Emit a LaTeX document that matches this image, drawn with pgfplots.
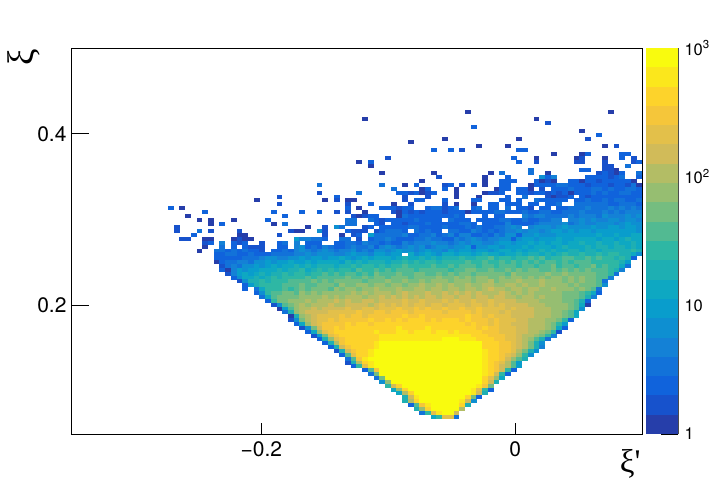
\documentclass[border=0pt]{standalone}
\usepackage{fontspec}
\setmainfont{TeX Gyre Heros}
\newfontfamily\gr{Liberation Serif}
\usepackage{pgfplots}
\pgfplotsset{compat=1.18}
\definecolor{b1}{rgb}{.1486,.2438,.6649}\definecolor{b2}{rgb}{.0890,.3212,.8006}
\definecolor{b3}{rgb}{.0630,.3887,.8624}\definecolor{b4}{rgb}{.0705,.4465,.8504}
\definecolor{b5}{rgb}{.0780,.5041,.8385}\definecolor{b6}{rgb}{.0561,.5592,.8197}
\definecolor{b7}{rgb}{.0342,.6143,.8009}\definecolor{b8}{rgb}{.0546,.6571,.7616}
\definecolor{b9}{rgb}{.1158,.6875,.7021}\definecolor{b10}{rgb}{.1802,.7178,.6425}
\definecolor{b11}{rgb}{.3202,.7304,.5720}\definecolor{b12}{rgb}{.4601,.7430,.5015}
\definecolor{b13}{rgb}{.5878,.7459,.4429}\definecolor{b14}{rgb}{.7032,.7394,.3963}
\definecolor{b15}{rgb}{.8186,.7328,.3499}\definecolor{b16}{rgb}{.8894,.7542,.2887}
\definecolor{b17}{rgb}{.9602,.7755,.2275}\definecolor{b18}{rgb}{.9918,.8256,.1682}
\definecolor{b19}{rgb}{.9841,.9043,.1111}\definecolor{b20}{rgb}{.9764,.9832,.0539}
\pgfdeclareplotmark{bin}{\pgfpathrectangle{\pgfpoint{-2.93pt}{-2.0pt}}{\pgfpoint{5.86pt}{4.0pt}}\pgfusepathqfill}
\pgfplotsset{bins/.style={scatter,only marks,mark=bin,forget plot,scatter/use mapped color={fill=mapped color}}}
\newcount\ci
\newcommand\R[3]{%
  \global\ci=#2\relax\gdef\acc{}%
  \pgfmathsetmacro\yy{0.05+0.0045*(#1+0.5)}%
  \foreach \v in {#3}{%
    \ifnum\v>0
      \pgfmathsetmacro\xx{-0.35+0.0045*(\the\ci+0.5)}%
      \xdef\acc{\acc (\xx,\yy) [\the\numexpr\v-1\relax.5]}%
    \fi
    \global\advance\ci by 1
  }%
  \edef\doit{\noexpand\addplot[bins] coordinates {\acc};}\doit}
\newcommand\Band[3]{\addplot[draw=none,fill=b#1,forget plot] coordinates {(0,#2)(1,#2)(1,#3)(0,#3)} --cycle;}
\begin{document}
\begin{tikzpicture}
\path[use as bounding box] (0,0) rectangle (714pt,483pt);
\begin{axis}[at={(71pt,49pt)},anchor=south west,scale only axis,width=571pt,height=386pt,
  xmin=-0.35,xmax=0.1,ymin=0.05,ymax=0.5,
  xtick={-0.2,0},xticklabels={−0.2,0},ytick={0.2,0.4},yticklabels={0.2,0.4},
  tick pos=lower,tick align=inside,major tick length=11.5pt,
  tick style={black,line width=0.8pt},axis line style={line width=0.9pt},
  tick label style={font=\fontsize{21}{25}\selectfont},
  xticklabel style={yshift=-4pt},yticklabel style={xshift=-1pt},
  xlabel={\gr ξ'},ylabel={\gr ξ},
  xlabel style={font=\fontsize{33}{36}\selectfont,at={(rel axis cs:1,0)},anchor=north east,yshift=-12pt,xshift=2pt},
  ylabel style={font=\fontsize{37}{40}\selectfont,at={(rel axis cs:0,1)},anchor=east,xshift=3pt,yshift=47pt},
  point meta=explicit,point meta min=0,point meta max=20,
  colormap={bird}{color=(b1) color=(b2) color=(b3) color=(b4) color=(b5) color=(b6) color=(b7) color=(b8) color=(b9) color=(b10) color=(b11) color=(b12) color=(b13) color=(b14) color=(b15) color=(b16) color=(b17) color=(b18) color=(b19) color=(b20)},
  colormap access=piecewise constant]
\R{83}{69}{1}\R{83}{94}{1}
\R{81}{51}{1}\R{81}{81}{1}
\R{80}{83}{2}
\R{79}{70}{3}
\R{78}{89}{1}
\R{77}{92}{3}
\R{76}{65}{1}\R{76}{78}{1}\R{76}{90}{2}
\R{75}{59}{1}
\R{74}{71}{1}\R{74}{76}{1}\R{74}{93}{1,0,2}
\R{73}{63}{3,0,0,3,0,2}\R{73}{78}{3,3}
\R{72}{84}{1}\R{72}{89}{1,3}\R{72}{96}{3,3}
\R{71}{55}{2}\R{71}{77}{3,0,0,0,1}\R{71}{88}{1,2,0,0,0,1,0,0,3,0,2}
\R{70}{50}{1,0,3}\R{70}{78}{3,0,0,2}\R{70}{88}{2,2,0,0,0,2,0,0,0,0,2,3}
\R{69}{52}{1}\R{69}{93}{2,2,0,0,4}
\R{68}{80}{4}\R{68}{89}{3,3,0,0,2,2,1}
\R{67}{54}{1}\R{67}{63}{1}\R{67}{73}{1,0,4,0,0,0,0,4,0,0,1}\R{67}{92}{2,3,2,1,3,0,0,4}
\R{66}{64}{2}\R{66}{72}{1,0,0,0,3}\R{66}{82}{6,3,5}\R{66}{90}{3,3,3,3,2,3,4,0,0,3}
\R{65}{61}{1}\R{65}{72}{1,0,0,3,3,3,0,0,0,3,1,2,1,0,0,3,3,1,3,3,2,3,3,3,3,3,1}
\R{64}{43}{4}\R{64}{54}{4,0,0,0,1,0,3,0,0,0,0,2,3,0,2,0,3,0,1,0,0,3,3,0,0,0,1,3,3,3,3,4,4,3,3,3,2,3,3,3,2,3,3,2,4,1}
\R{63}{56}{4,0,0,0,0,1,3,0,0,3,0,1,0,0,0,0,0,0,1,3,3,0,3,3,1,0,2,0,3,3,3,4,3,3,3,4,4,3,4,3,3,4,4,3}
\R{62}{43}{2,0,0,0,0,0,0,4,0,0,0,0,0,0,3,3,2,3,1,2,3,0,0,0,1,0,0,0,0,1,2,2,3,0,0,3,3,2,3,3,2,3,2,3,1,3,3,3,4,3,4,3,3,4,4,3,3}
\R{61}{36}{2,0,0,0,0,0,0,0,0,0,3,0,0,0,0,0,0,0,0,0,0,0,2,0,0,0,2,0,0,0,0,1,0,0,0,1,0,0,0,0,3,0,0,4,0,0,0,2,1,2,2,3,0,3,2,3,3,3,3,3,3,3,3,3}
\R{60}{32}{1,0,0,0,0,0,0,0,0,0,0,0,1,0,2,0,1,1,0,0,0,0,0,0,0,0,2,0,3,3,0,0,0,3,0,0,0,0,3,3,0,0,0,3,3,0,3,0,0,4,3,3,3,3,3,0,3,3,4,3,3,4,3,4,4,3,3,4}
\R{59}{36}{2,0,0,0,0,0,0,0,0,0,0,0,2,0,0,0,3,0,0,0,1,0,0,2,0,0,0,0,0,2,0,1,0,0,1,0,0,3,3,0,3,3,3,0,3,3,0,3,3,4,0,0,4,4,4,4,4,4,3,3,4,4,4,3}
\R{58}{17}{3,0,1}\R{58}{48}{3,0,1,0,0,0,3,3,3,2,3,3,0,0,3,4,4,2,3,4,0,0,3,4,0,3,3,0,4,0,3,3,2,0,3,3,0,3,3,4,4,4,5,4,4,4,5,4,5,4,5,4}
\R{57}{23}{3}\R{57}{35}{3,0,0,0,0,3,0,0,3,0,0,2,0,2,0,0,1,0,0,0,0,2,1,3,2,3,2,3,3,3,2,3,3,3,1,3,3,3,3,4,4,3,3,3,4,3,3,4,4,3,3,4,4,4,5,4,4,4,5,4,5,4,5,5,5}
\R{56}{20}{1}\R{56}{37}{3,0,0,0,0,0,0,0,0,0,0,0,2,1,2,3,3,0,0,0,1,4,3,3,3,3,3,3,3,3,4,3,0,0,0,3,0,3,3,0,0,0,5,4,5,5,4,4,4,4,5,4,5,5,5,4,6,5,5,5,6,5,6}
\R{55}{22}{1,0,1,0,0,0,1}\R{55}{34}{3,0,0,0,0,0,0,0,0,0,0,0,0,0,4,4,0,0,4,3,2,3,3,3,3,3,4,3,3,3,3,0,4,3,3,3,0,3,3,3,3,4,4,3,3,4,3,3,4,4,5,5,0,5,5,6,5,6,5,5,6,6,5,6,6,5}
\R{54}{24}{1,0,3}\R{54}{35}{1,0,4,0,0,0,0,0,0,0,0,0,0,4,4,0,0,0,3,2,0,3,3,2,3,3,3,4,3,3,3,3,3,4,4,3,0,3,3,3,3,5,3,3,3,3,4,5,5,5,5,6,4,5,6,5,5,6,6,6,5,6,7,6,6}
\R{53}{18}{2}\R{53}{41}{1,0,0,2,0,6,4,0,0,0,2,3,0,3,3,3,3,3,4,4,3,3,3,3,4,3,3,3,4,3,4,3,3,4,4,5,6,5,0,5,6,6,6,5,6,7,6,6,6,6,7,6,6,7,7,6,7,7,6}
\R{52}{18}{2,0,0,0,4,0,2,0,0,0,0,2}\R{52}{38}{2,1,1,0,0,6,2,0,0,0,3,2,2,2,0,2,3,4,4,4,3,0,4,3,4,3,3,0,4,4,3,3,5,4,3,4,3,4,5,5,6,5,6,6,5,6,7,7,6,7,6,7,7,6,7,7,7,7,7,7,7,6}
\R{51}{21}{3,0,0,0,0,0,0,0,1,1}\R{51}{36}{2,0,0,0,0,0,0,0,2,0,0,1,0,2,3,0,7,4,4,4,4,4,5,3,3,4,4,5,3,4,5,3,5,5,3,3,4,3,5,4,6,6,3,6,6,7,6,6,6,7,7,7,7,7,7,7,8,7,7,8,7,7,8,8}
\R{50}{19}{2,2,0,0,1,1,0,0,0,1,2,1,1}\R{50}{39}{7,5,5,4,4,3,0,0,4,4,0,2,0,3,4,4,5,4,3,3,3,4,4,5,4,4,3,3,5,4,5,6,5,4,5,5,6,6,3,6,7,7,6,7,7,7,8,7,7,8,8,8,8,7,8,8,7,8,9,8,8}
\R{49}{23}{2,3,0,5,0,3,2,3,0,0,2,0,0,3,4,0,5,0,3,3,3,0,0,3,3,4,4,3,5,4,4,3,4,3,3,5,4,5,5,5,6,5,5,4,5,6,5,6,6,5,5,6,7,7,6,7,7,8,7,8,7,8,8,7,8,8,9,8,8,9,8,8,9,8,8,9,8}
\R{48}{23}{1,0,0,4,0,3,0,3,2,2,2,0,0,3,3,0,5,6,3,4,3,5,4,3,3,4,5,4,4,5,3,5,6,5,4,5,6,5,6,4,5,6,6,5,6,6,7,3,6,6,7,7,6,7,7,7,8,7,8,8,8,7,8,9,8,8,8,9,8,9,9,8,9,9,8,9,8}
\R{47}{22}{1,0,0,4,4,3,4,3,4,3,3,2,0,3,3,4,3,5,6,5,4,5,6,5,4,5,5,6,4,5,4,6,6,5,6,7,6,6,5,6,7,6,6,5,7,6,7,7,6,7,7,6,7,8,8,7,8,7,8,8,9,8,9,8,8,9,9,8,9,9,8,9,9,9,9,9,10,9}
\R{46}{25}{3,3,4,4,3,3,4,3,3,3,4,4,4,4,5,5,6,5,6,6,6,5,5,6,7,6,6,5,7,7,6,7,7,0,8,6,7,8,7,6,8,8,7,8,8,7,8,9,8,8,7,8,8,9,8,9,9,8,9,8,9,10,9,9,10,9,9,10,9,10,10,9,9,8,6}
\R{45}{25}{3,3,3,3,3,4,4,4,5,6,6,5,5,6,6,7,6,7,7,6,7,7,8,7,6,7,8,7,8,8,8,7,8,9,8,8,9,8,9,8,9,9,9,10,9,9,10,10,11,9,10,10,9,10,10,11,10,11,9,10,10,11,11,10,10,11,10,11,10,10,9,10,9,3}
\R{44}{25}{1,3,4,4,5,5,4,6,6,7,6,7,7,8,7,7,8,7,8,8,8,8,7,9,8,9,8,9,9,9,8,9,9,10,9,10,9,10,10,9,10,10,10,10,11,10,10,11,10,10,11,10,11,10,11,10,11,10,11,11,10,11,10,11,11,11,10,10,10,10,10,9,7}
\R{43}{26}{2,4,5,4,6,6,7,6,7,8,7,8,8,9,8,9,8,9,9,9,8,9,9,10,9,10,10,9,10,9,10,10,11,10,10,10,10,11,10,10,11,10,11,11,11,10,11,11,10,11,11,11,10,11,11,10,11,11,12,10,11,11,10,11,11,12,10,11,10,10,8,4}
\R{42}{26}{3,1,5,7,6,7,7,8,8,8,9,8,9,9,10,8,9,10,9,10,9,10,10,9,11,10,10,11,10,11,10,11,11,11,10,11,11,11,11,11,10,11,11,12,12,11,11,12,11,11,12,11,12,11,12,12,11,11,12,11,12,11,12,11,12,11,11,11,10,9,5}
\R{41}{27}{2,5,7,8,7,8,9,8,9,9,10,9,10,10,9,10,10,11,10,11,10,11,11,10,11,10,12,11,11,11,12,11,11,12,12,11,11,12,11,12,11,12,12,11,12,12,12,12,12,11,13,12,12,12,12,12,13,12,12,13,12,12,12,12,12,11,11,10,4}
\R{40}{28}{3,6,8,8,9,8,9,10,9,10,10,10,10,11,10,11,11,11,11,11,12,11,11,12,11,12,12,11,12,12,12,11,12,12,12,12,13,12,12,13,12,13,12,13,13,12,12,13,12,13,13,12,13,12,13,12,13,13,12,13,12,13,12,12,11,11,5}
\R{39}{29}{2,6,9,9,10,9,10,10,10,11,11,11,11,12,11,12,11,12,12,12,12,12,11,12,12,12,13,12,12,13,12,12,13,12,13,13,13,12,13,13,13,12,13,13,14,12,13,13,13,14,13,13,13,14,13,13,13,12,13,12,13,12,12,11,4}
\R{38}{30}{3,7,9,10,10,10,10,11,11,11,12,11,11,12,12,12,11,13,12,12,13,13,12,13,13,12,13,13,12,13,13,14,13,13,14,13,14,13,13,14,13,13,14,14,13,13,14,14,13,14,13,13,14,13,13,13,13,12,13,12,12,12,11,6}
\R{37}{30}{3,0,4,8,10,10,10,11,10,11,12,11,12,12,12,11,13,12,13,13,12,13,13,14,13,13,13,14,13,13,14,14,13,14,14,13,14,14,13,14,14,13,14,15,14,14,13,14,14,13,14,14,13,13,14,13,13,13,12,13,12,11,4}
\R{36}{32}{3,6,10,11,11,12,12,11,13,12,13,12,13,13,13,13,13,14,13,14,13,14,14,14,13,14,15,14,14,14,15,14,14,15,14,15,14,15,14,15,14,14,14,15,14,13,14,13,14,13,13,13,13,13,12,12,12,11,10,8,3}
\R{35}{33}{4,8,11,12,12,12,12,13,13,13,13,14,13,14,13,14,14,14,13,14,14,15,14,15,14,15,14,15,14,15,15,14,15,15,14,15,15,14,15,15,14,15,15,14,14,13,14,14,13,14,13,13,13,12,12,12,11,9,5}
\R{34}{34}{3,10,12,12,13,13,13,14,13,14,14,14,15,14,15,14,14,15,15,14,15,15,15,15,16,15,15,16,15,15,15,16,15,16,15,15,16,15,15,16,15,15,15,15,14,14,14,14,13,13,13,13,12,12,11,9,3}
\R{33}{35}{2,6,11,12,13,14,13,14,14,14,15,14,14,15,15,15,15,14,15,16,15,16,15,16,15,16,16,15,16,16,15,16,16,16,15,16,16,15,16,15,16,15,15,15,15,14,14,14,13,13,13,13,12,11,8,1}
\R{32}{36}{1,7,11,13,14,14,15,14,15,15,15,15,16,15,15,16,16,15,16,16,16,17,16,16,17,16,17,16,16,17,16,16,17,16,16,17,16,16,16,16,15,16,15,15,15,14,14,14,13,13,13,12,11,6}
\R{31}{37}{4,9,13,14,15,15,15,15,16,16,16,16,16,17,16,16,17,17,16,17,17,17,16,17,17,17,17,17,16,17,17,17,17,16,17,16,16,16,15,16,15,15,15,15,14,14,14,13,13,12,11,8}
\R{30}{38}{1,9,13,14,15,16,16,16,16,17,16,17,17,16,17,17,17,17,17,17,18,17,17,18,17,17,17,17,17,17,17,18,17,17,16,17,16,16,16,15,15,15,15,14,14,14,13,13,12,11,8}
\R{29}{38}{2,6,12,14,15,16,16,17,16,17,17,17,17,17,18,17,17,18,17,18,17,18,18,18,17,18,17,18,18,18,17,18,17,17,17,16,17,16,16,16,15,15,14,14,14,13,13,12,10,3}
\R{28}{39}{3,8,13,15,16,17,17,17,17,18,17,18,18,17,18,18,18,18,18,18,18,18,18,18,18,18,18,18,18,18,17,18,17,17,16,17,16,16,15,15,15,14,14,14,13,12,10,7}
\R{27}{40}{2,6,12,15,17,17,18,17,18,18,18,18,18,18,18,18,18,19,18,18,18,18,19,18,18,18,18,18,18,18,18,17,18,17,17,16,16,16,15,15,14,14,14,13,12,8,3}
\R{26}{41}{3,8,13,16,17,18,18,18,18,18,18,18,19,18,18,18,19,19,18,19,19,19,18,19,19,18,19,18,18,18,18,17,17,17,16,16,16,15,15,14,14,13,12,10,2}
\R{25}{42}{2,7,12,16,17,18,18,18,18,18,18,18,19,19,19,19,19,19,19,19,19,19,19,19,19,19,19,19,18,18,18,17,17,17,16,16,15,14,14,13,12,10,5}
\R{24}{43}{3,9,13,16,17,18,18,18,18,18,18,19,19,19,19,19,19,19,19,19,19,19,20,20,20,19,19,19,18,18,18,17,17,16,16,15,14,13,11,9,4}
\R{23}{44}{3,9,14,17,18,18,18,18,18,19,20,20,20,20,20,20,20,20,20,20,20,20,20,20,20,20,20,20,18,18,18,17,17,16,15,14,12,9,6}
\R{22}{45}{3,9,15,17,18,18,18,18,19,20,20,20,20,20,20,20,20,20,20,20,20,20,20,20,20,20,20,18,18,18,17,17,16,15,14,12,9,5}
\R{21}{46}{2,9,15,17,18,18,19,20,20,20,20,20,20,20,20,20,20,20,20,20,20,20,20,20,20,20,19,18,18,17,17,16,14,12,9,6}
\R{20}{47}{3,11,16,18,18,19,20,20,20,20,20,20,20,20,20,20,20,20,20,20,20,20,20,20,20,19,18,18,17,16,15,13,10,6}
\R{19}{48}{4,11,17,19,20,20,20,20,20,20,20,20,20,20,20,20,20,20,20,20,20,20,20,20,19,18,18,17,15,13,11,9}
\R{18}{48}{2,9,14,18,19,20,20,20,20,20,20,20,20,20,20,20,20,20,20,20,20,20,20,20,19,18,17,16,14,11,7}
\R{17}{49}{3,10,16,19,20,20,20,20,20,20,20,20,20,20,20,20,20,20,20,20,20,20,20,19,18,17,15,14,11,7}
\R{16}{51}{3,11,17,20,20,20,20,20,20,20,20,20,20,20,20,20,20,20,20,20,20,19,18,17,15,10,3}
\R{15}{52}{4,12,20,20,20,20,20,20,20,20,20,20,20,20,20,20,20,20,20,20,19,18,15,10,3}
\R{14}{53}{4,12,20,20,20,20,20,20,20,20,20,20,20,20,20,20,20,20,20,18,16,13,8}
\R{13}{54}{6,13,20,20,20,20,20,20,20,20,20,20,20,20,20,20,20,20,18,15,9}
\R{12}{55}{10,15,18,20,20,20,20,20,20,20,20,20,20,20,20,20,19,17,12}
\R{11}{56}{8,13,18,20,20,20,20,20,20,20,20,20,20,20,19,16,10,3}
\R{10}{57}{8,14,18,20,20,20,20,20,20,20,20,20,20,19,15,9}
\R{9}{58}{9,15,19,20,20,20,20,20,20,20,20,18,12,3}
\R{8}{58}{9,14,18,20,20,20,20,20,20,20,19,15,6}
\R{7}{59}{3,11,17,19,20,20,20,20,20,18,9}
\R{6}{60}{9,13,18,20,20,20,20,20,14}
\R{5}{61}{4,10,16,19,20,20,15}
\R{4}{63}{8,10,16,16,4}
\end{axis}
\draw[black,line width=0.8pt] (71pt,177.67pt) -- ++(17.5pt,0);
\draw[black,line width=0.8pt] (71pt,349.22pt) -- ++(17.5pt,0);
\begin{axis}[at={(645.7pt,49pt)},anchor=south west,scale only axis,width=32.3pt,height=386pt,
  xmin=0,xmax=1,ymin=1,ymax=1000,ymode=log,axis x line=none,axis y line*=right,
  ytick={1,10,100,1000},yticklabels={1,10,10\textsuperscript{2},10\textsuperscript{3}},
  minor ytick={2,3,4,5,6,7,8,9,20,30,40,50,60,70,80,90,200,300,400,500,600,700,800,900},
  tick align=inside,major tick length=17pt,minor tick length=8.5pt,
  tick style={black,line width=0.7pt},axis line style={draw=black!70,line width=0.9pt,-},
  yticklabel style={font=\fontsize{16.5}{18}\selectfont,xshift=3pt},
  yticklabel pos=right]
\Band{1}{1}{1.41}\Band{2}{1.41}{2}\Band{3}{2}{2.82}\Band{4}{2.82}{3.98}\Band{5}{3.98}{5.62}
\Band{6}{5.62}{7.94}\Band{7}{7.94}{11.2}\Band{8}{11.2}{15.8}\Band{9}{15.8}{22.4}\Band{10}{22.4}{31.6}
\Band{11}{31.6}{44.7}\Band{12}{44.7}{63.1}\Band{13}{63.1}{89.1}\Band{14}{89.1}{126}\Band{15}{126}{178}
\Band{16}{178}{251}\Band{17}{251}{355}\Band{18}{355}{501}\Band{19}{501}{708}\Band{20}{708}{1000}
\end{axis}
\end{tikzpicture}
\end{document}
